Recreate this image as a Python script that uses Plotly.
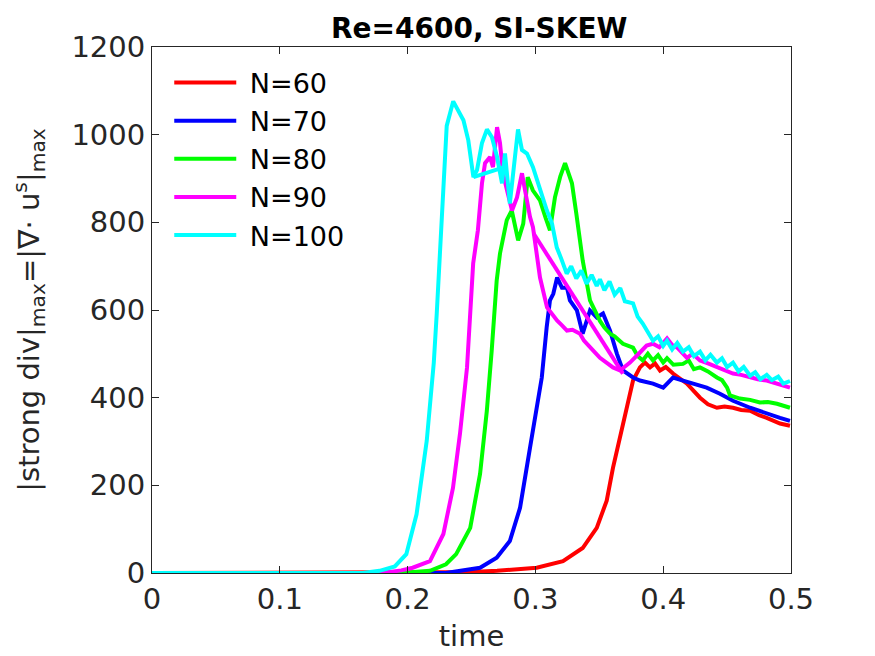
import plotly.graph_objects as go

# values (time, |strong div|_max)
t_60 = [0, 0.2, 0.25, 0.27, 0.301, 0.3216, 0.337, 0.348, 0.3558, 0.3607, 0.3662, 0.3717, 0.3764,
        0.3818, 0.3857, 0.3897, 0.3936, 0.3975, 0.402, 0.4077, 0.413, 0.4186, 0.4288, 0.435, 0.442,
        0.448, 0.4546, 0.461, 0.468, 0.475, 0.481, 0.4914, 0.4992]
v_60 = [0, 0, 2, 5, 12, 27, 57, 103, 165, 240, 309, 377, 439,
        469, 480, 469, 478, 462, 470, 455, 445, 432, 400, 385, 377,
        380, 377, 372, 370, 360, 354, 341, 336]

t_70 = [0, 0.1, 0.23, 0.2567, 0.2697, 0.28, 0.288, 0.2958, 0.301, 0.305, 0.3088, 0.3114, 0.314,
        0.317, 0.3208, 0.3247, 0.327, 0.3325, 0.337, 0.34, 0.3427, 0.348, 0.3529, 0.3584, 0.3638,
        0.3685, 0.3717, 0.3764, 0.3818, 0.392, 0.4, 0.4077, 0.4155, 0.4233, 0.434, 0.4444, 0.4546,
        0.468, 0.481, 0.4914, 0.4992]
v_70 = [0, 0, 0, 12, 35, 73, 149, 286, 377, 446, 560, 622, 637,
        674, 651, 651, 622, 599, 546, 576, 599, 583, 592, 553, 500,
        462, 455, 446, 439, 432, 423, 446, 439, 432, 423, 409, 393,
        377, 363, 354, 347]

t_80 = [0, 0.1, 0.195, 0.2175, 0.23, 0.238, 0.249, 0.2567, 0.262, 0.2658, 0.2697, 0.2723, 0.2776,
        0.2815, 0.284, 0.2865, 0.2905, 0.294, 0.298, 0.3036, 0.308, 0.3114, 0.3153, 0.3195, 0.3232,
        0.3286, 0.332, 0.335, 0.337, 0.3427, 0.346, 0.3505, 0.354, 0.3584, 0.362, 0.3685, 0.3764,
        0.38, 0.384, 0.388, 0.392, 0.396, 0.4, 0.403, 0.408, 0.4155, 0.42, 0.424, 0.4288, 0.435,
        0.442, 0.446, 0.45, 0.4523, 0.46, 0.468, 0.4757, 0.482, 0.489, 0.4992]
v_80 = [0, 0, 0, 5, 20, 43, 103, 226, 370, 507, 667, 729, 805,
        827, 797, 759, 797, 903, 873, 850, 810, 782, 857, 905, 935,
        889, 820, 759, 713, 622, 600, 575, 560, 546, 540, 523, 514,
        495, 485, 500, 485, 497, 480, 490, 475, 477, 485, 465, 469, 460,
        446, 440, 423, 405, 398, 395, 389, 390, 386, 377]

t_90 = [0, 0.1, 0.18, 0.195, 0.204, 0.2175, 0.228, 0.2355, 0.241, 0.2465, 0.2513, 0.255, 0.2582,
        0.2606, 0.2645, 0.2668, 0.27, 0.2723, 0.2746, 0.2778, 0.2817, 0.2856, 0.2895, 0.2919, 0.2958,
        0.2981, 0.3036, 0.3091, 0.313, 0.3169, 0.3208, 0.3247, 0.329, 0.3349, 0.338, 0.3427, 0.346,
        0.3505, 0.355, 0.3607, 0.3662, 0.37, 0.374, 0.3818, 0.387, 0.392, 0.397, 0.403, 0.407, 0.411,
        0.4186, 0.423, 0.4288, 0.435, 0.442, 0.448, 0.4546, 0.461, 0.468, 0.474, 0.481, 0.488, 0.494,
        0.4992]
v_90 = [0, 0, 0, 6, 12, 27, 89, 194, 318, 469, 706, 782, 889,
        935, 949, 926, 1017, 981, 912, 873, 827, 857, 912, 873, 812,
        789, 674, 606, 590, 576, 565, 553, 555, 546, 530, 514, 505,
        491, 482, 469, 462, 470, 480, 503, 519, 523, 515, 535, 520, 514,
        491, 500, 485, 478, 469, 462, 455, 452, 446, 442, 439, 433, 428,
        423]
# straight connecting segment visible in the N=90 curve
t_90_seg = [0.2985, 0.3685]
v_90_seg = [775, 455]

t_100 = [0, 0.1, 0.165, 0.178, 0.19, 0.199, 0.207, 0.215, 0.2205, 0.2228, 0.2278, 0.2306, 0.2357,
         0.2397, 0.2437, 0.2475, 0.2515, 0.2543, 0.2582, 0.2621, 0.266, 0.27, 0.2739, 0.2762, 0.28,
         0.284, 0.2864, 0.2895, 0.2934, 0.2981, 0.3036, 0.309, 0.313, 0.3167, 0.3205, 0.3245, 0.328,
         0.332, 0.336, 0.34, 0.344, 0.348, 0.3505, 0.354, 0.358, 0.362, 0.3664, 0.37, 0.3764, 0.38,
         0.384, 0.388, 0.392, 0.396, 0.4, 0.403, 0.407, 0.411, 0.4155, 0.42, 0.424, 0.4288, 0.433,
         0.437, 0.442, 0.446, 0.45, 0.4546, 0.459, 0.463, 0.468, 0.472, 0.476, 0.481, 0.485, 0.49,
         0.494, 0.4992]
v_100 = [0, 0, 0, 5, 15, 43, 134, 302, 480, 592, 857, 1020, 1076,
         1056, 1033, 987, 903, 919, 981, 1012, 994, 949, 889, 957, 843,
         949, 1012, 965, 957, 926, 873, 827, 797, 743, 715, 683, 700,
         672, 690, 660, 680, 655, 670, 645, 665, 635, 650, 620, 615, 585,
         569, 548, 530, 540, 518, 530, 510, 525, 505, 515, 495, 505, 485,
         498, 480, 490, 470, 480, 460, 470, 450, 458, 442, 452, 440, 448,
         432, 438]
t_100_seg = [0.2515, 0.2745]
v_100_seg = [903, 925]

x_ticks = [0, 0.1, 0.2, 0.3, 0.4, 0.5]
x_ticklabels = ["0", "0.1", "0.2", "0.3", "0.4", "0.5"]
y_ticks = [0, 200, 400, 600, 800, 1000, 1200]

labels = ["N=60", "N=70", "N=80", "N=90", "N=100"]
colors = ["#ff0000", "#0000ff", "#00ff00", "#ff00ff", "#00ffff"]

series = [
    (t_60, v_60),
    (t_70, v_70),
    (t_80, v_80),
    (t_90 + [None] + t_90_seg, v_90 + [None] + v_90_seg),
    (t_100 + [None] + t_100_seg, v_100 + [None] + v_100_seg),
]

fig = go.Figure()
for (t, v), name, c in zip(series, labels, colors):
    # nbsp in front widens the gap between legend line and label
    fig.add_trace(go.Scatter(x=t, y=v, mode="lines", name="\u00a0" + name,
                             line=dict(color=c, width=4), connectgaps=False))

axis_style = dict(showline=True, linecolor="#262626", linewidth=1, mirror="ticks",
                  ticks="inside", ticklen=7, tickcolor="#262626", showgrid=False, zeroline=False,
                  automargin=False, tickfont=dict(size=29, color="#262626"))

# page body adds an 8px offset, margins compensate
fig.update_layout(
    width=875, height=656,
    margin=dict(l=144, r=92, t=39, b=91),
    plot_bgcolor="white", paper_bgcolor="white",
    font=dict(family="DejaVu Sans", color="#262626"),
    title=dict(text="<b>Re=4600, SI-SKEW</b>", x=0.5385, xanchor="center", y=0.9695, yanchor="middle",
               font=dict(size=28, color="black")),
    xaxis=dict(range=[0, 0.5], tickvals=x_ticks, ticktext=x_ticklabels, tickangle=0,
               title=dict(text="time", font=dict(size=29), standoff=10), **axis_style),
    yaxis=dict(range=[0, 1200], tickvals=y_ticks,
               title=dict(text="|strong div|<sub>max</sub>=|∇· u<sup>s</sup>|<sub>max</sub>",
                          font=dict(size=29), standoff=25), **axis_style),
    legend=dict(x=0.027, y=0.978, xanchor="left", yanchor="top", bgcolor="rgba(255,255,255,0)",
                font=dict(size=27, color="black"), itemwidth=62, tracegroupgap=0),
    showlegend=True,
)

fig.write_html("out.html")
